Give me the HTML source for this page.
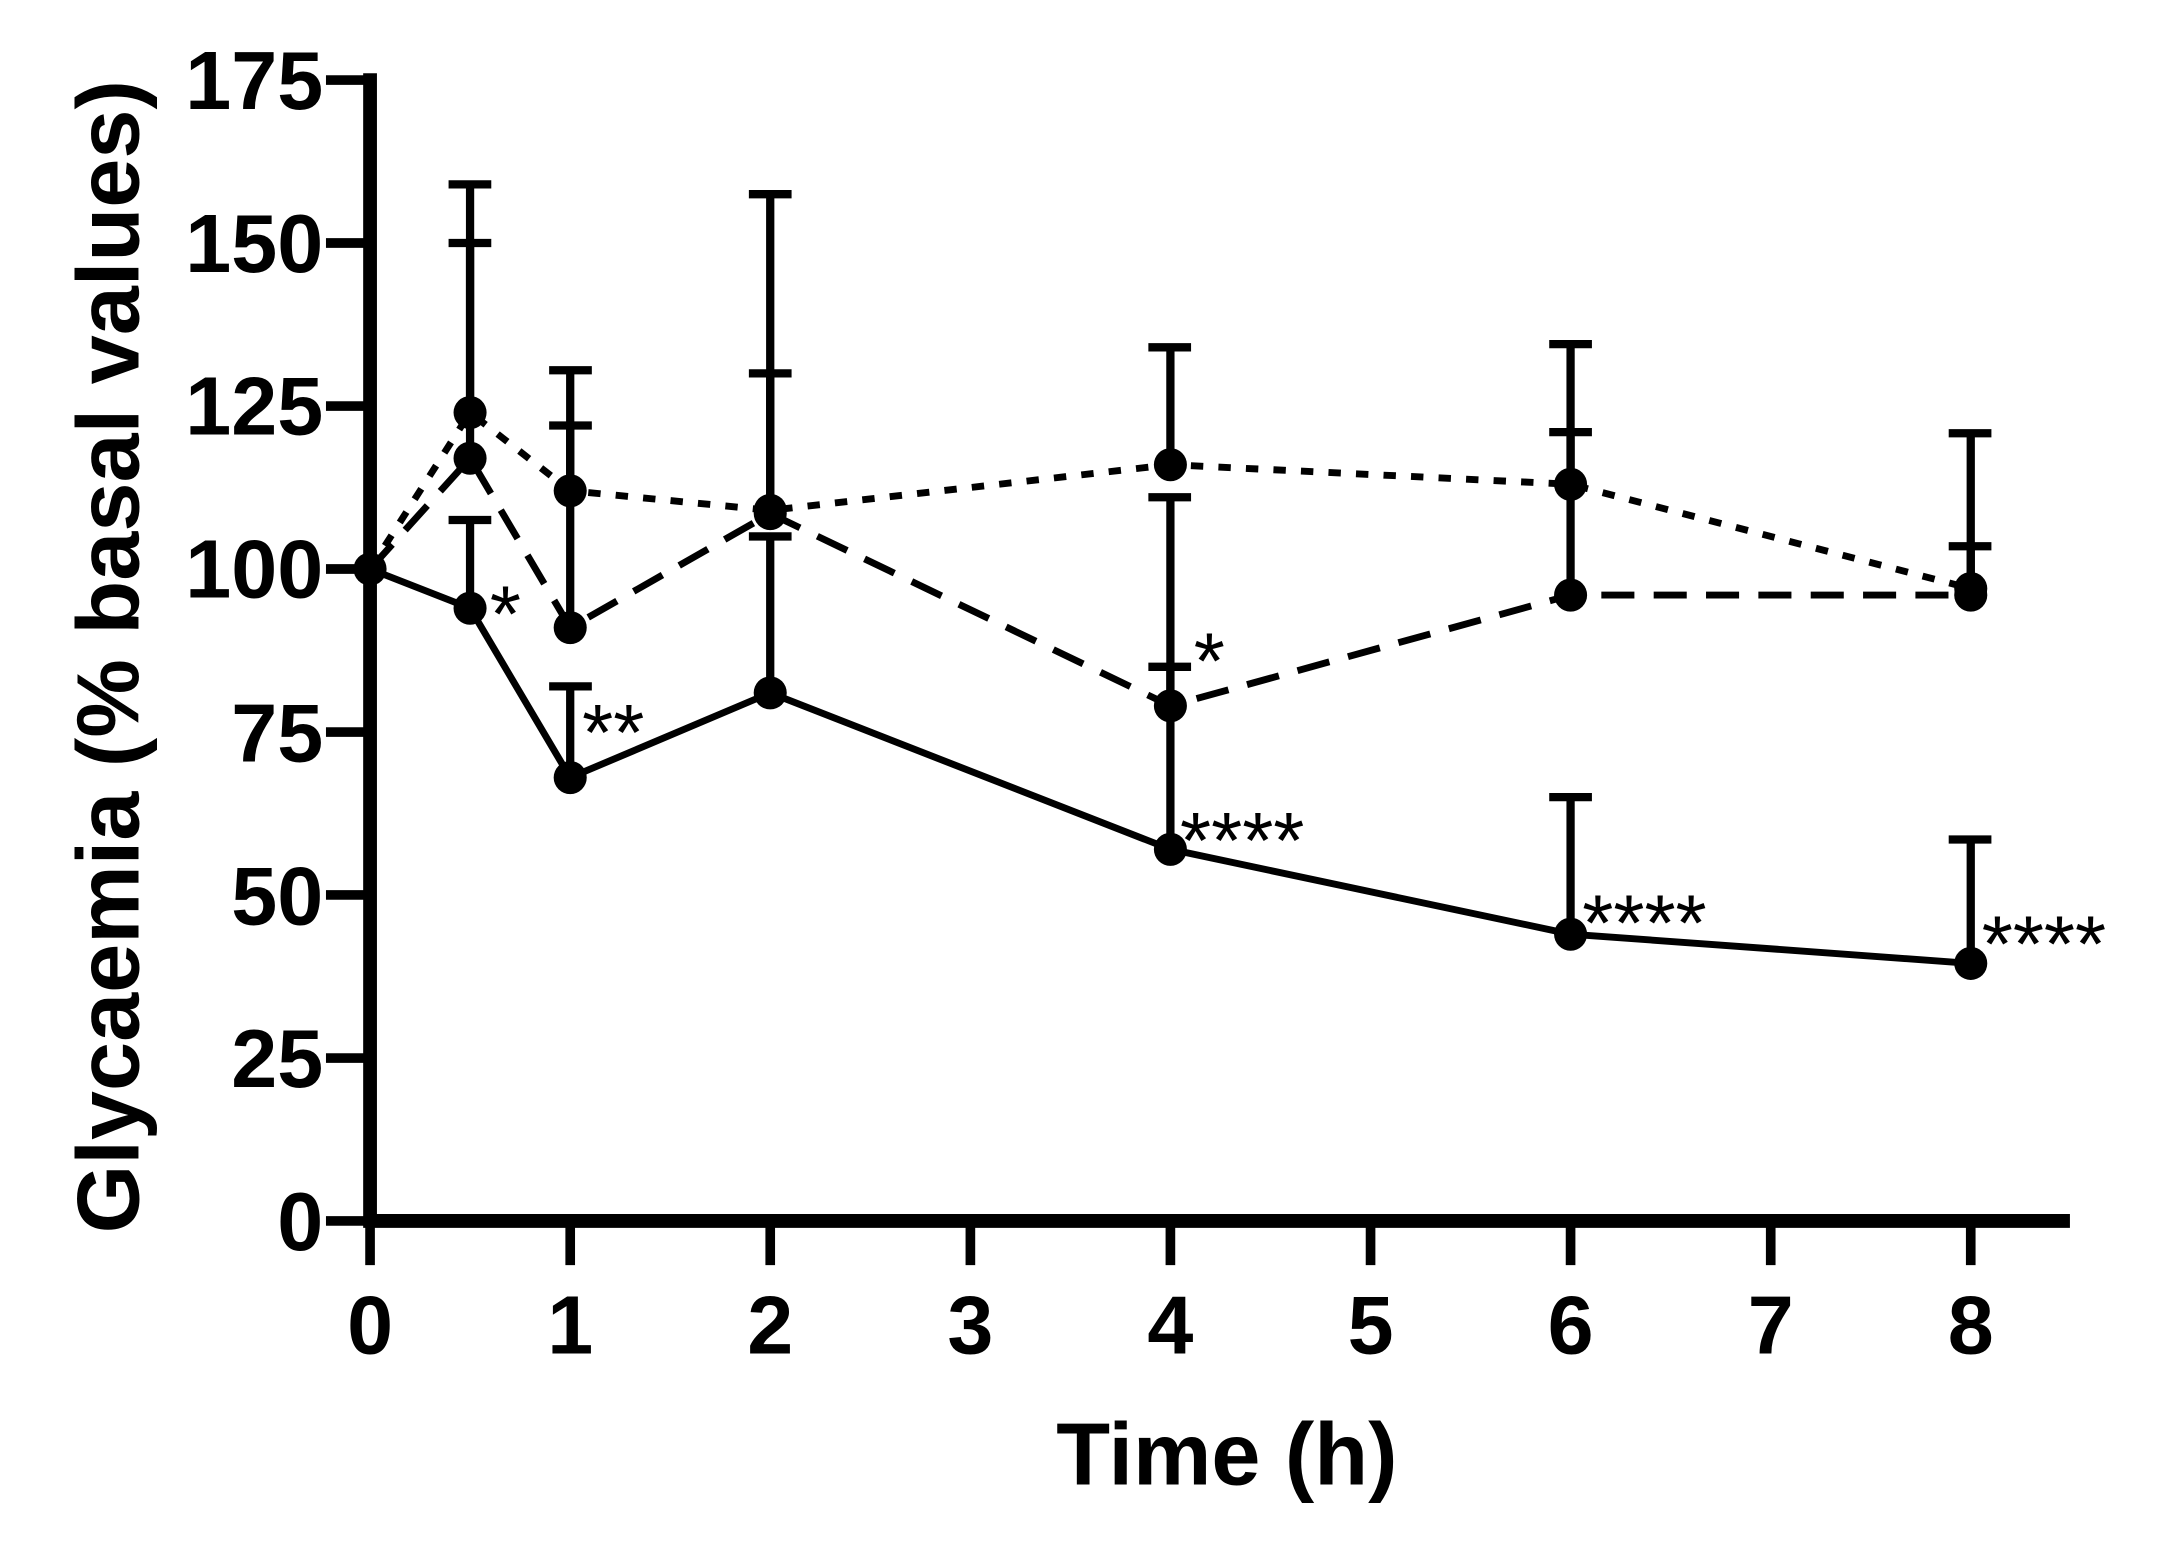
<!DOCTYPE html>
<html><head><style>html,body{margin:0;padding:0;background:#fff}svg{display:block}</style></head>
<body>
<svg width="2164" height="1544" viewBox="0 0 1552 1107.4" preserveAspectRatio="none" xmlns="http://www.w3.org/2000/svg" font-family="Liberation Sans, Arial, sans-serif" font-weight="bold">
<g transform="matrix(0.98795,0,0,0.98942,0.63,1.05)">
<g stroke="#000" stroke-width="6" fill="none" stroke-linecap="butt">
<path d="M340.6,439.8V375.9M325,375.9h31 M413.3,562.6V496.5M398,496.5h31 M558.5,501.2V387.8M543,387.8h31 M849,614.6V482.3M833,482.3h31 M1139.5,676.1V576.8M1124,576.8h31 M1430,697.3V607.5M1414,607.5h31"/>
<path d="M340.6,331.1V175.1M325,175.1h31 M413.3,453.9V307.4M398,307.4h31 M558.5,371.2V269.6M543,269.6h31 M849,510.6V359.4M833,359.4h31 M1139.5,430.3V312.2M1124,312.2h31 M1430,430.3V394.9M1414,394.9h31"/>
<path d="M340.6,298V132.6M325,132.6h31 M413.3,354.7V267.3M398,267.3h31 M558.5,368.9V139.7M543,139.7h31 M849,335.8V250.7M833,250.7h31 M1139.5,350V248.4M1124,248.4h31 M1430,425.6V313M1414,313h31"/>
<polyline stroke-width="5" points="268,411.4 340.6,439.8 413.3,562.6 558.5,501.2 849,614.6 1139.5,676.1 1430,697.3"/>
<polyline stroke-width="5" stroke-dasharray="24,14" points="268,411.4 340.6,331.1 413.3,453.9 558.5,371.2 849,510.6 1139.5,430.3 1430,430.3"/>
<polyline stroke-width="5" stroke-dasharray="9,11" points="268,411.4 340.6,298 413.3,354.7 558.5,368.9 849,335.8 1139.5,350 1430,425.6"/>
<path stroke-width="10" d="M268,52V889M263,884H1502"/>
<path stroke-width="7" d="M268,57H236M268,175.1H236M268,293.3H236M268,411.4H236M268,529.6H236M268,647.7H236M268,765.9H236M268,884H236"/>
<path stroke-width="7" d="M268,884v32M413.3,884v32M558.5,884v32M703.8,884v32M849,884v32M994.3,884v32M1139.5,884v32M1284.8,884v32M1430,884v32"/>
</g>
<g fill="#000">
<circle cx="268" cy="411.4" r="12"/>
<circle cx="340.6" cy="439.8" r="12"/><circle cx="413.3" cy="562.6" r="12"/><circle cx="558.5" cy="501.2" r="12"/><circle cx="849" cy="614.6" r="12"/><circle cx="1139.5" cy="676.1" r="12"/><circle cx="1430" cy="697.3" r="12"/>
<circle cx="340.6" cy="331.1" r="12"/><circle cx="413.3" cy="453.9" r="12"/><circle cx="558.5" cy="371.2" r="12"/><circle cx="849" cy="510.6" r="12"/><circle cx="1139.5" cy="430.3" r="12"/><circle cx="1430" cy="430.3" r="12"/>
<circle cx="340.6" cy="298" r="12"/><circle cx="413.3" cy="354.7" r="12"/><circle cx="558.5" cy="368.9" r="12"/><circle cx="849" cy="335.8" r="12"/><circle cx="1139.5" cy="350" r="12"/><circle cx="1430" cy="425.6" r="12"/>
</g>
<g font-size="60" text-anchor="end">
<text x="234" y="78">175</text><text x="234" y="196">150</text><text x="234" y="314">125</text><text x="234" y="432">100</text><text x="234" y="551">75</text><text x="234" y="669">50</text><text x="234" y="787">25</text><text x="234" y="905">0</text>
</g>
<g font-size="60" text-anchor="middle">
<text x="268" y="980">0</text><text x="413.3" y="980">1</text><text x="558.5" y="980">2</text><text x="703.8" y="980">3</text><text x="849" y="980">4</text><text x="994.3" y="980">5</text><text x="1139.5" y="980">6</text><text x="1284.8" y="980">7</text><text x="1430" y="980">8</text>
<text x="890" y="1075" font-size="64">Time (h)</text>
<text transform="translate(100,475) rotate(-90)" font-size="64">Glycaemia (% basal values)</text>
</g>
<g font-size="58" font-weight="normal">
<text x="355" y="464">*</text><text x="422" y="550">**</text><text x="866" y="498">*</text><text x="856" y="628">****</text><text x="1148" y="688">****</text><text x="1438" y="703">****</text>
</g>
</g>
</svg>
</body></html>
